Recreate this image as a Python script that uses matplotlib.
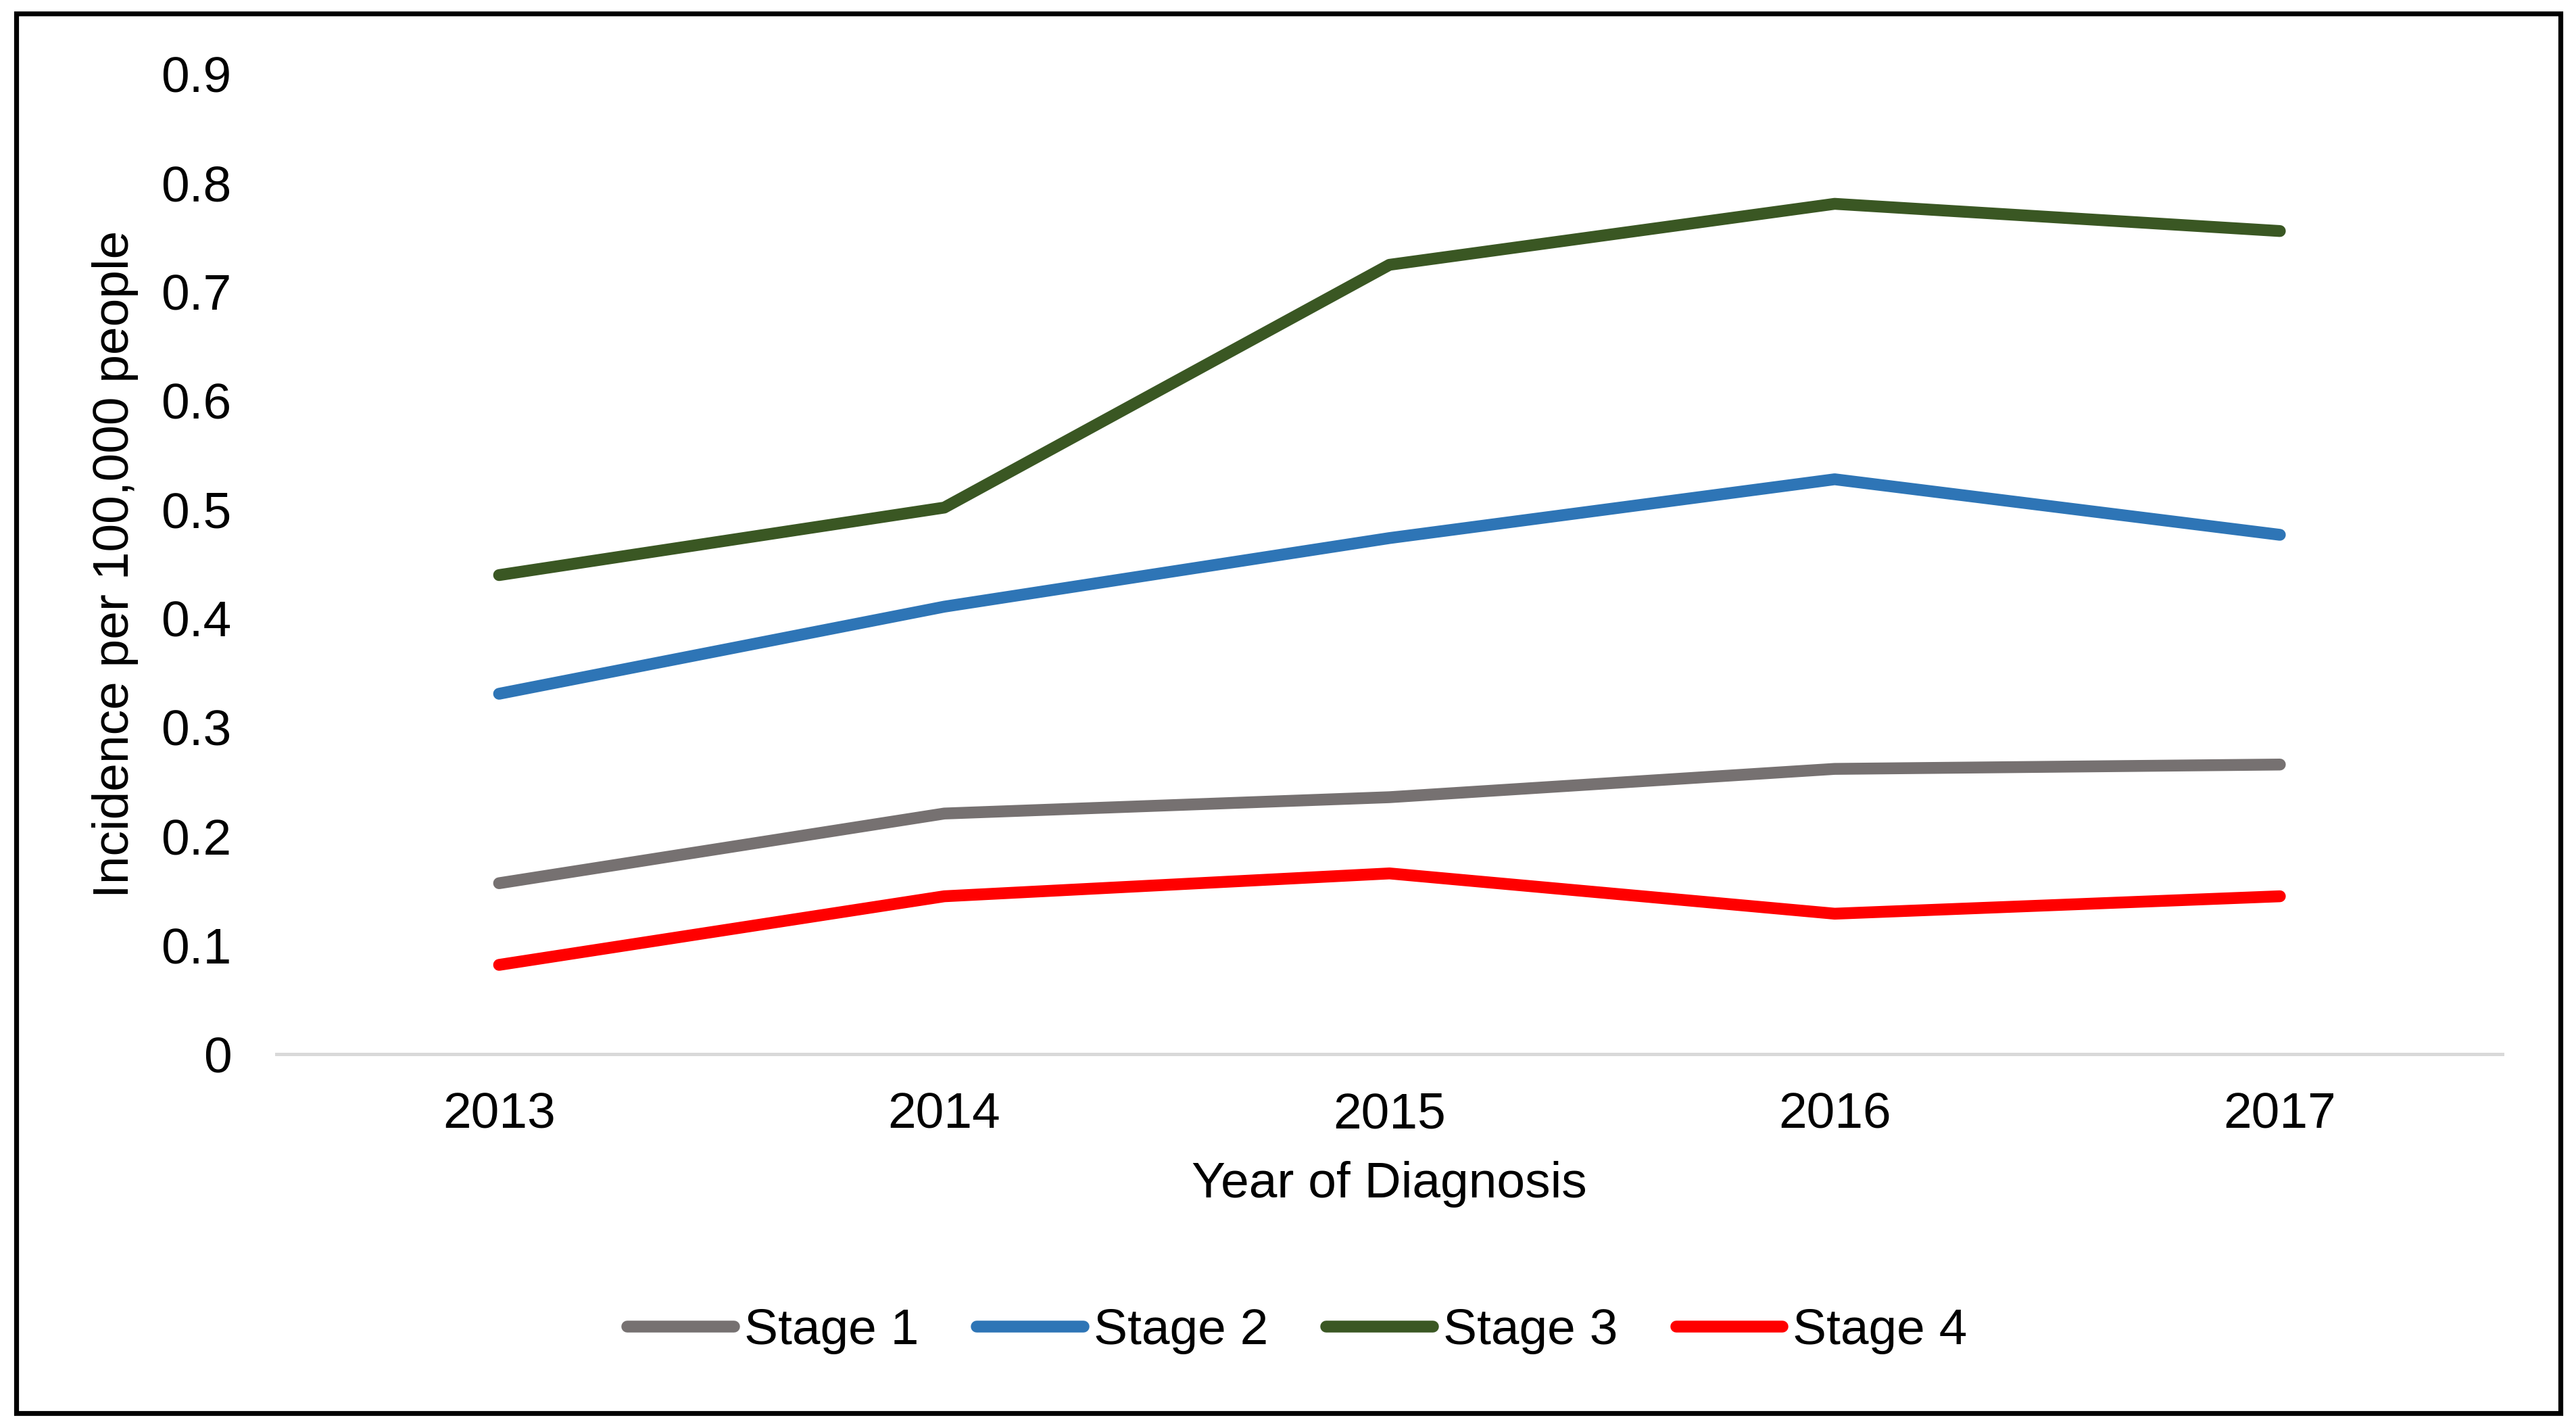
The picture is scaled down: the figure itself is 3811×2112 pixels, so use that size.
import matplotlib
matplotlib.use("Agg")
import matplotlib.pyplot as plt
from matplotlib.patches import Rectangle

plt.rcParams['font.family'] = ['Liberation Sans', 'DejaVu Sans']

years = ['2013', '2014', '2015', '2016', '2017']
stage1 = [0.157, 0.221, 0.236, 0.262, 0.266]
stage2 = [0.331, 0.411, 0.474, 0.528, 0.477]
stage3 = [0.440, 0.502, 0.725, 0.781, 0.756]
stage4 = [0.082, 0.145, 0.166, 0.129, 0.145]
series_names = ['Stage 1', 'Stage 2', 'Stage 3', 'Stage 4']
colors = ['#767171', '#2E75B6', '#3A5723', '#FF0000']
y_ticks = [0, 0.1, 0.2, 0.3, 0.4, 0.5, 0.6, 0.7, 0.8, 0.9]
y_tick_labels = ['0', '0.1', '0.2', '0.3', '0.4', '0.5', '0.6', '0.7', '0.8', '0.9']

W, H = 3812, 2112
dpi = 200
FS = 27
fig = plt.figure(figsize=(W / dpi, H / dpi), dpi=dpi)
ax = fig.add_axes([0.1073, 0.2618, 0.9712 - 0.1073, 0.948 - 0.2618])

x = list(range(len(years)))
for vals, name, c in zip([stage1, stage2, stage3, stage4], series_names, colors):
    ax.plot(x, vals, color=c, lw=6.3, solid_capstyle='round', solid_joinstyle='round', label=name)

ax.set_xlim(-0.5, len(years) - 0.5)
ax.set_ylim(0, 0.9)
ax.set_xticks(x)
ax.set_xticklabels(years)
ax.set_yticks(y_ticks)
ax.set_yticklabels(y_tick_labels)
ax.tick_params(axis='both', length=0, labelsize=FS, colors='black')
ax.tick_params(axis='y', pad=24)
ax.tick_params(axis='x', pad=20)
for s in ['top', 'right', 'left']:
    ax.spines[s].set_visible(False)
ax.spines['bottom'].set_color('#D9D9D9')
ax.spines['bottom'].set_linewidth(1.8)
ax.set_xlabel('Year of Diagnosis', fontsize=FS, labelpad=12)
ax.set_ylabel('Incidence per 100,000 people', fontsize=FS, labelpad=12)

leg = fig.legend(loc='center', bbox_to_anchor=(0.5035, 0.068), ncol=4, frameon=False,
                 fontsize=FS, handlelength=2.1, handletextpad=0.2, columnspacing=1.15)

fig.patches.append(Rectangle((0.0064, 0.0105), 0.9936 - 0.0064, 0.9905 - 0.0105,
                             transform=fig.transFigure, fill=False, edgecolor='black',
                             lw=2.6, zorder=10))

fig.savefig('out.png', dpi=dpi, facecolor='white')
